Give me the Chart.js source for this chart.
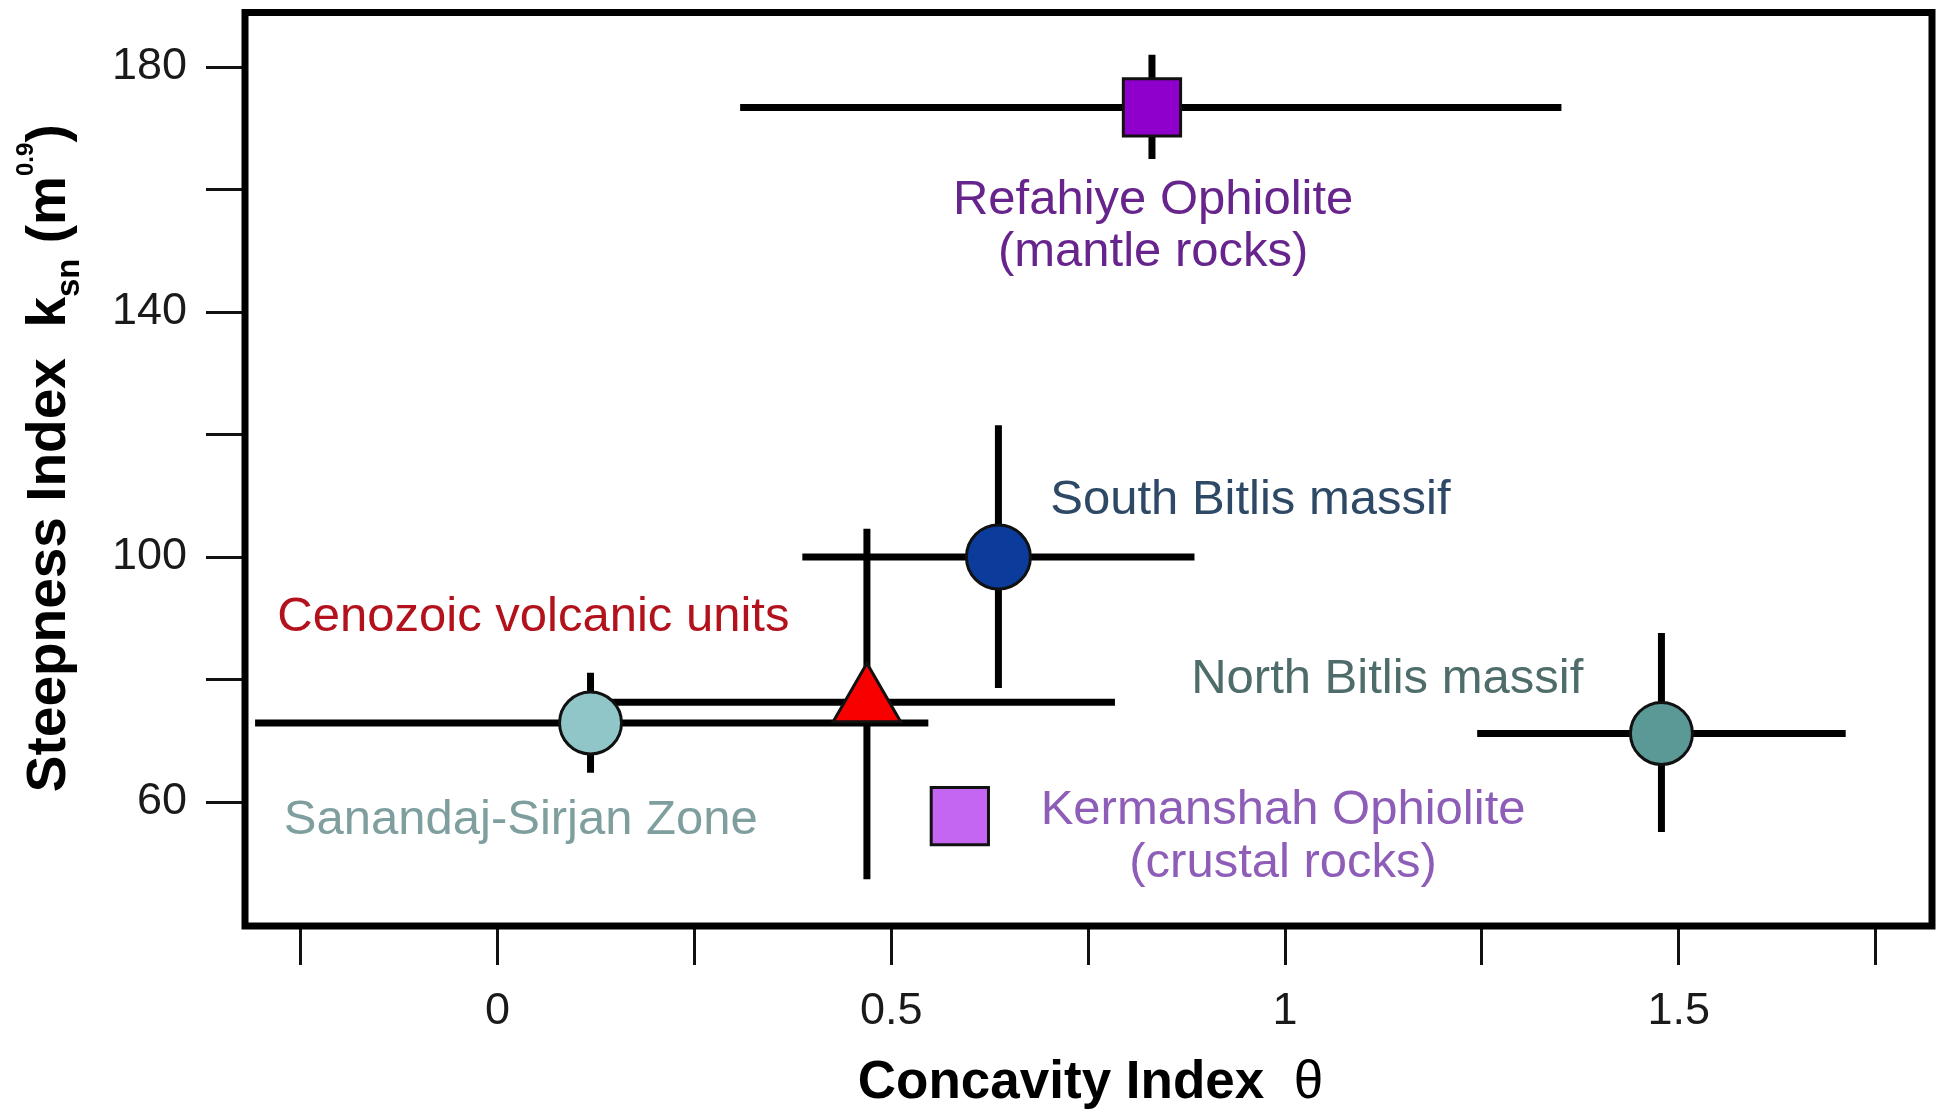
<!DOCTYPE html>
<html>
<head>
<meta charset="utf-8">
<script src="https://cdn.jsdelivr.net/npm/chart.js@4.4.1/dist/chart.umd.min.js"></script>
<style>
html, body { margin: 0; padding: 0; background: #fff; }
#wrap { width: 1946px; height: 1112px; position: relative; }
</style>
</head>
<body>
<div id="wrap"><canvas id="chart"></canvas></div>
<script>
// groups
var groups = ['Refahiye Ophiolite', 'South Bitlis massif', 'Cenozoic volcanic units', 'Sanandaj-Sirjan Zone', 'North Bitlis massif', 'Kermanshah Ophiolite'];
var concavity = [0.831, 0.636, 0.469, 0.118, 1.478, 0.587];
var steepness = [173.4, 100, 76.3, 72.9, 71.2, 57.7];
var concavityLow = [0.308, 0.387, 0.14, -0.308, 1.244, null];
var concavityHigh = [1.351, 0.885, 0.784, 0.547, 1.712, null];
var steepnessLow = [165, 78.6, 47.4, 64.8, 55.1, null];
var steepnessHigh = [182, 121.5, 104.6, 81.1, 87.6, null];

var xTicks = [-0.25, 0, 0.25, 0.5, 0.75, 1, 1.25, 1.5, 1.75];
var xTickLabels = ['', '0', '', '0.5', '', '1', '', '1.5', ''];
var yTicks = [60, 80, 100, 120, 140, 160, 180];
var yTickLabels = ['60', '', '100', '', '140', '', '180'];

// marker look per group
var markerShape = ['rect', 'circle', 'triangle', 'circle', 'circle', 'rect'];
var markerFill = ['#9000cc', '#0b3c9c', '#f80000', '#90c6c7', '#5b9996', '#c466f2'];
var markerSize = [40.5, 32, 39, 31, 31, 40.5];

var fontFam = '"Liberation Sans", Arial, Helvetica, sans-serif';
Chart.defaults.font.family = fontFam;

// text next to the points, anchored in data units
var notes = [
	{text: 'Refahiye Ophiolite', x: 0.8325, y: 156.0, align: 'center', color: '#67248c'},
	{text: '(mantle rocks)', x: 0.8325, y: 147.5, align: 'center', color: '#67248c'},
	{text: 'South Bitlis massif', x: 0.7018, y: 107.0, align: 'left', color: '#2d4966'},
	{text: 'Cenozoic volcanic units', x: -0.2797, y: 87.9, align: 'left', color: '#b3121d'},
	{text: 'North Bitlis massif', x: 0.8808, y: 77.8, align: 'left', color: '#4d6c6a'},
	{text: 'Sanandaj-Sirjan Zone', x: -0.2715, y: 54.8, align: 'left', color: '#7f9e9e'},
	{text: 'Kermanshah Ophiolite', x: 0.9975, y: 56.4, align: 'center', color: '#8d5db8'},
	{text: '(crustal rocks)', x: 0.9975, y: 47.7, align: 'center', color: '#8d5db8'}
];

var datasets = [];
var points = [];
for (var i = 0; i < groups.length; i++) {
	points.push({x: concavity[i], y: steepness[i]});
	if (concavityLow[i] !== null) {
		datasets.push({
			label: groups[i] + ' x-error',
			data: [{x: concavityLow[i], y: steepness[i]}, {x: concavityHigh[i], y: steepness[i]}],
			showLine: true, borderColor: '#000', borderWidth: 7, pointRadius: 0, order: 1
		});
		datasets.push({
			label: groups[i] + ' y-error',
			data: [{x: concavity[i], y: steepnessLow[i]}, {x: concavity[i], y: steepnessHigh[i]}],
			showLine: true, borderColor: '#000', borderWidth: 7, pointRadius: 0, order: 1
		});
	}
}
datasets.push({
	label: 'groups',
	data: points,
	pointStyle: markerShape,
	pointRadius: markerSize,
	pointHoverRadius: markerSize,
	pointBackgroundColor: markerFill,
	pointBorderColor: '#111',
	pointBorderWidth: 3,
	order: 0
});

var framePlugin = {
	id: 'frame',
	afterDraw: function(chart) {
		var ctx = chart.ctx;
		var a = chart.chartArea;
		var xs = chart.scales.x, ys = chart.scales.y;
		ctx.save();

		ctx.font = '49px ' + fontFam;
		ctx.textBaseline = 'alphabetic';
		for (var i = 0; i < notes.length; i++) {
			ctx.fillStyle = notes[i].color;
			ctx.textAlign = notes[i].align;
			ctx.fillText(notes[i].text, xs.getPixelForValue(notes[i].x), ys.getPixelForValue(notes[i].y));
		}

		ctx.lineWidth = 7;
		ctx.strokeStyle = '#000';
		ctx.strokeRect(a.left, a.top, a.right - a.left, a.bottom - a.top);

		// x title
		ctx.fillStyle = '#000';
		ctx.textAlign = 'left';
		var bold = 'bold 53px ' + fontFam;
		var thetaFont = '53px ' + fontFam;
		ctx.font = bold;
		var w1 = ctx.measureText('Concavity Index  ').width;
		ctx.font = thetaFont;
		var w2 = ctx.measureText('\u03b8').width;
		var sx = (a.left + a.right) / 2 + 2 - (w1 + w2) / 2;
		ctx.font = bold;
		ctx.fillText('Concavity Index  ', sx, a.bottom + 172);
		ctx.font = thetaFont;
		ctx.fillText('\u03b8', sx + w1, a.bottom + 172);

		// y title, with subscript and superscript
		var parts = [
			{t: 'Steepness Index  k', f: 'bold 55px ' + fontFam, dy: 0},
			{t: 'sn', f: 'bold 33px ' + fontFam, dy: 14},
			{t: ' (m', f: 'bold 55px ' + fontFam, dy: 0},
			{t: '0.9', f: 'bold 24px ' + fontFam, dy: -32},
			{t: ')', f: 'bold 55px ' + fontFam, dy: 0}
		];
		var total = 0;
		for (var j = 0; j < parts.length; j++) {
			ctx.font = parts[j].f;
			parts[j].w = ctx.measureText(parts[j].t).width;
			total += parts[j].w;
		}
		ctx.translate(65, (a.top + a.bottom) / 2 - 11);
		ctx.rotate(-Math.PI / 2);
		var px = -total / 2;
		for (j = 0; j < parts.length; j++) {
			ctx.font = parts[j].f;
			ctx.fillText(parts[j].t, px, parts[j].dy);
			px += parts[j].w;
		}
		ctx.restore();
	}
};

new Chart(document.getElementById('chart'), {
	type: 'scatter',
	data: {datasets: datasets},
	options: {
		responsive: true,
		maintainAspectRatio: false,
		animation: false,
		layout: {autoPadding: false, padding: {top: 12.5, right: 14, left: 0, bottom: 0}},
		plugins: {legend: {display: false}, tooltip: {enabled: false}},
		scales: {
			x: {
				type: 'linear', min: -0.3208, max: 1.8216,
				border: {display: false},
				grid: {drawOnChartArea: false, drawTicks: true, tickLength: 39, tickWidth: 3, tickColor: '#111'},
				ticks: {
					padding: 20, color: '#1a1a1a', font: {size: 45}, maxRotation: 0, autoSkip: false,
					callback: function(v, i) { return xTickLabels[i]; }
				},
				afterBuildTicks: function(s) { s.ticks = xTicks.map(function(v) { return {value: v}; }); },
				afterFit: function(s) { s.height = 186; s.paddingLeft = 0; s.paddingRight = 0; }
			},
			y: {
				type: 'linear', min: 39.76, max: 188.9,
				border: {display: false},
				grid: {drawOnChartArea: false, drawTicks: true, tickLength: 39, tickWidth: 3, tickColor: '#111'},
				ticks: {
					padding: 19, color: '#1a1a1a', font: {size: 45}, autoSkip: false,
					callback: function(v, i) { return yTickLabels[i]; }
				},
				afterBuildTicks: function(s) { s.ticks = yTicks.map(function(v) { return {value: v}; }); },
				afterFit: function(s) { s.width = 245; s.paddingTop = 0; s.paddingBottom = 0; }
			}
		}
	},
	plugins: [framePlugin]
});
</script>
</body>
</html>
